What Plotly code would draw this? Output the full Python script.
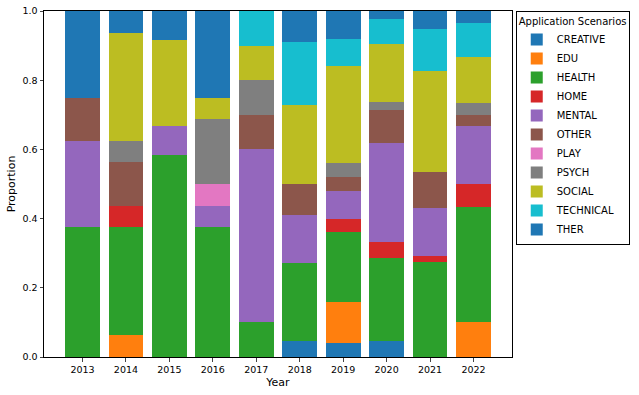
import plotly.graph_objects as go

years = [2013, 2014, 2015, 2016, 2017, 2018, 2019, 2020, 2021, 2022]

creative = [0, 0, 0, 0, 0, 0.0455, 0.04, 0.0476, 0, 0]
edu = [0, 0.0625, 0, 0, 0, 0, 0.12, 0, 0, 0.1]
health = [0.375, 0.3125, 0.5833, 0.375, 0.1, 0.2273, 0.2, 0.2381, 0.2759, 0.3333]
home = [0, 0.0625, 0, 0, 0, 0, 0.04, 0.0476, 0.0172, 0.0667]
mental = [0.25, 0, 0.0833, 0.0625, 0.5, 0.1364, 0.08, 0.2857, 0.1379, 0.1667]
other = [0.125, 0.125, 0, 0, 0.1, 0.0909, 0.04, 0.0952, 0.1034, 0.0333]
play = [0, 0, 0, 0.0625, 0, 0, 0, 0, 0, 0]
psych = [0, 0.0625, 0, 0.1875, 0.1, 0, 0.04, 0.0238, 0, 0.0333]
social = [0, 0.3125, 0.25, 0.0625, 0.1, 0.2273, 0.28, 0.1667, 0.2931, 0.1333]
technical = [0, 0, 0, 0, 0.1, 0.1818, 0.08, 0.0714, 0.1207, 0.1]
ther = [0.25, 0.0625, 0.0833, 0.25, 0, 0.0909, 0.08, 0.0238, 0.0517, 0.0333]

series = [
    ('CREATIVE', creative, '#1f77b4'),
    ('EDU', edu, '#ff7f0e'),
    ('HEALTH', health, '#2ca02c'),
    ('HOME', home, '#d62728'),
    ('MENTAL', mental, '#9467bd'),
    ('OTHER', other, '#8c564b'),
    ('PLAY', play, '#e377c2'),
    ('PSYCH', psych, '#7f7f7f'),
    ('SOCIAL', social, '#bcbd22'),
    ('TECHNICAL', technical, '#17becf'),
    ('THER', ther, '#1f77b4'),
]

fig = go.Figure()
for name, vals, col in series:
    fig.add_trace(go.Bar(x=years, y=vals, name=name, width=0.8,
                         marker=dict(color=col, line=dict(width=0))))

fig.update_layout(
    barmode='stack',
    width=639, height=395,
    margin=dict(l=44, r=127, t=11, b=38, autoexpand=False),
    paper_bgcolor='white', plot_bgcolor='white',
    font=dict(family='DejaVu Sans', size=9.5, color='black'),
    xaxis=dict(title=dict(text='Year', standoff=4), range=[2012.114, 2022.886],
               tickmode='array', tickvals=years, ticks='outside', ticklen=3.5,
               showline=True, mirror=True, linecolor='black', linewidth=1,
               showgrid=False, zeroline=False, automargin=False),
    yaxis=dict(title=dict(text='Proportion', standoff=4), range=[0, 1],
               tickvals=[0, 0.2, 0.4, 0.6, 0.8, 1.0], tickformat='.1f',
               ticks='outside', ticklen=3.5,
               showline=True, mirror=True, linecolor='black', linewidth=1,
               showgrid=False, zeroline=False, automargin=False),
    legend=dict(title=dict(text='Application Scenarios', font=dict(size=10)),
                traceorder='normal',
                x=1.008, xanchor='left', y=1, yanchor='top',
                bordercolor='black', borderwidth=1, tracegroupgap=0,
                font=dict(size=10)),
    bargap=0.2,
)

# drop the default 8px body margin so the figure sits at the page corner
fig.write_html("out.html", config={'displayModeBar': False},
               post_script="document.body.style.margin='0';")
